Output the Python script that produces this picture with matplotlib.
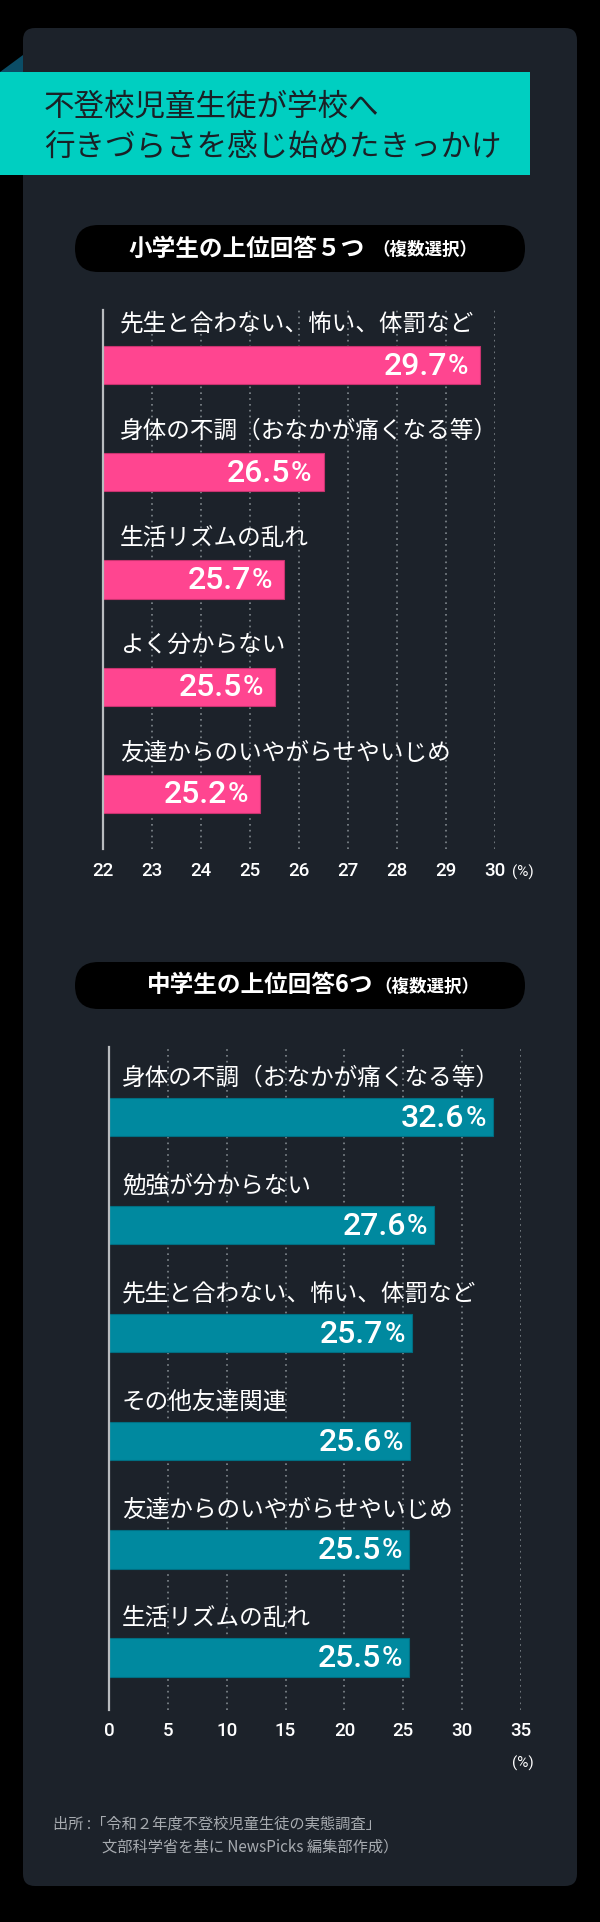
import matplotlib
matplotlib.use("Agg")
import matplotlib.pyplot as plt
from matplotlib.patches import FancyBboxPatch, Rectangle, Polygon

W, H = 600, 1922
DPI = 100

# --- data ---
title_lines = ["不登校児童生徒が学校へ", "行きづらさを感じ始めたきっかけ"]

elem_head = ["小学生の上位回答５つ", "（複数選択）"]
elem_labels = [
    "先生と合わない、怖い、体罰など",
    "身体の不調（おなかが痛くなる等）",
    "生活リズムの乱れ",
    "よく分からない",
    "友達からのいやがらせやいじめ",
]
elem_values = [29.7, 26.5, 25.7, 25.5, 25.2]
elem_ticks = [22, 23, 24, 25, 26, 27, 28, 29, 30]

jh_head = ["中学生の上位回答6つ", "（複数選択）"]
jh_labels = [
    "身体の不調（おなかが痛くなる等）",
    "勉強が分からない",
    "先生と合わない、怖い、体罰など",
    "その他友達関連",
    "友達からのいやがらせやいじめ",
    "生活リズムの乱れ",
]
jh_values = [32.6, 27.6, 25.7, 25.6, 25.5, 25.5]
jh_ticks = [0, 5, 10, 15, 20, 25, 30, 35]

source_lines = ["出所 :「令和２年度不登校児童生徒の実態調査」",
                "文部科学省を基に NewsPicks 編集部作成）"]

# --- styles ---
CARD = "#1c222a"
TEAL = "#00cfc1"
TEAL_DARK = "#0b4d66"
PINK = "#ff4590"
PINK_EDGE = "#c8336f"
BLUE = "#00899f"
BLUE_EDGE = "#006e82"
GRID = "#80878d"
JP = ["Noto Sans CJK JP", "DejaVu Sans"]
NUM = ["Roboto", "DejaVu Sans"]

fig = plt.figure(figsize=(W / DPI, H / DPI), dpi=DPI)
fig.patch.set_facecolor("black")

bg = fig.add_axes([0, 0, 1, 1])
bg.set_xlim(0, W)
bg.set_ylim(H, 0)
bg.axis("off")


def frame(x0, y0, x1, y1):
    # pixel box with top-left origin -> figure fraction rect
    return [x0 / W, 1 - y1 / H, (x1 - x0) / W, (y1 - y0) / H]


# card + title banner
bg.add_patch(FancyBboxPatch((23, 28), 554, 1858, boxstyle="round,pad=0,rounding_size=12",
                            facecolor=CARD, edgecolor="none"))
bg.add_patch(Rectangle((0, 72), 530, 103, facecolor=TEAL, edgecolor="none"))
bg.add_patch(Polygon([(0, 72), (23, 55), (23, 72)], closed=True, facecolor=TEAL_DARK, edgecolor="none"))
bg.text(44, 107, title_lines[0], fontsize=22, color="#1a2026", family=JP, va="center", ha="left")
bg.text(44, 147, title_lines[1], fontsize=22, color="#1a2026", family=JP, va="center", ha="left")


def header(y0, y1, parts, split_x, sub_x):
    bg.add_patch(FancyBboxPatch((75, y0), 450, y1 - y0,
                                boxstyle="round,pad=0,rounding_size=%g" % ((y1 - y0) / 2),
                                facecolor="black", edgecolor="none"))
    yc = (y0 + y1) / 2
    bg.text(split_x, yc, parts[0], fontsize=17, weight="bold", color="white",
            family=JP, ha="right", va="center")
    bg.text(sub_x, yc + 1, parts[1], fontsize=12.6, weight="bold", color="white",
            family=JP, ha="left", va="center")


def draw_chart(rect, labels, values, ticks, ylim, color, edge, lab_off, pct_in):
    ax = fig.add_axes(frame(*rect))
    ax.set_facecolor("none")
    x0 = ticks[0]
    pos = list(range(len(labels)))
    ax.barh(pos, [v - x0 for v in values], left=x0, height=0.355,
            color=color, edgecolor=edge, linewidth=0.8, zorder=3)
    ax.set_xlim(ticks[0], ticks[-1])
    ax.set_ylim(*ylim)
    ax.set_xticks(ticks)
    ax.set_yticks([])
    ax.tick_params(axis="x", length=0, pad=9, labelcolor="white", labelsize=13.5)
    for t in ax.get_xticklabels():
        t.set_fontfamily(NUM)
        t.set_fontweight("medium")
    ax.grid(axis="x", color=GRID, linestyle=(0, (1, 2.5)), linewidth=1.2)
    ax.set_axisbelow(True)
    for s in ["top", "right", "bottom"]:
        ax.spines[s].set_visible(False)
    ax.spines["left"].set_color("#b9bcbf")
    ax.spines["left"].set_linewidth(1.6)
    ax.spines["left"].set_zorder(4)

    for i, (lab, v) in enumerate(zip(labels, values)):
        ax.annotate(lab, xy=(x0, i), xytext=lab_off, textcoords="offset pixels",
                    ha="left", va="center", fontsize=17, color="white", family=JP,
                    annotation_clip=False, zorder=5)
        ax.annotate("%", xy=(v, i), xytext=(-pct_in, -1), textcoords="offset pixels",
                    ha="right", va="center", fontsize=20, color="white", family=NUM,
                    weight="medium", annotation_clip=False, zorder=5)
        ax.annotate(f"{v:.1f}", xy=(v, i), xytext=(-pct_in - 21, -1), textcoords="offset pixels",
                    ha="right", va="center", fontsize=23, color="white", family=NUM,
                    weight="medium", annotation_clip=False, zorder=5)
    return ax


# elementary school chart
header(225, 272, elem_head, 365, 372)
draw_chart((103, 310, 495, 849), elem_labels, elem_values, elem_ticks,
           (4.513, -0.513), PINK, PINK_EDGE, (17, 41), 12)
bg.text(523, 872, "(%)", fontsize=11, color="white", family=NUM, ha="center", va="center")

# junior high chart
header(962, 1009, jh_head, 373, 374)
draw_chart((109, 1047, 521, 1710), jh_labels, jh_values, jh_ticks,
           (5.486, -0.648), BLUE, BLUE_EDGE, (13, 39), 7)
bg.text(523, 1763, "(%)", fontsize=11, color="white", family=NUM, ha="center", va="center")

# source note
bg.text(53, 1824, source_lines[0], fontsize=11, color="#a7abb0", family=JP, ha="left", va="center")
bg.text(102, 1847, source_lines[1], fontsize=11, color="#a7abb0", family=JP, ha="left", va="center")

fig.savefig("out.png", dpi=DPI, facecolor=fig.get_facecolor())
